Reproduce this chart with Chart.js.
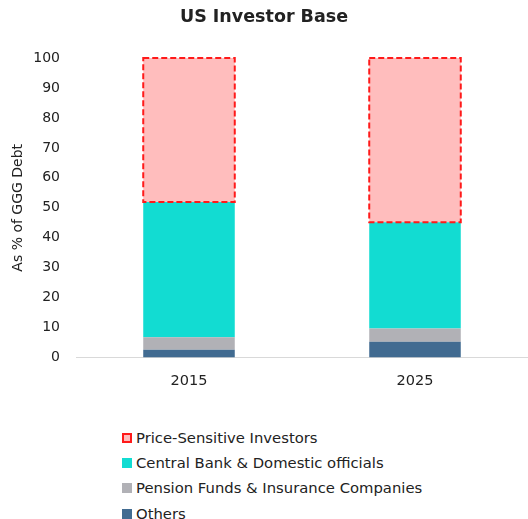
<!DOCTYPE html>
<html>
<head>
<meta charset="utf-8">
<script src="https://cdn.jsdelivr.net/npm/chart.js@4"></script>
<style>
  html, body { margin: 0; padding: 0; background: #fff; }
  #wrap { position: relative; width: 528px; height: 519px; font-family: "DejaVu Sans", Verdana, sans-serif; }
  #box { position: absolute; left: 0; top: 0; width: 528px; height: 419px; }
  #legend { position: absolute; left: 122px; top: 425px; font-size: 14.8px; color: #222; }
  #legend div { height: 25.3px; line-height: 22px; display: flex; align-items: center; }
  #legend span.sw { display: inline-block; width: 10px; height: 10px; margin-right: 4px; box-sizing: border-box; }
</style>
</head>
<body>
<div id="wrap">
  <div id="box"><canvas id="chart"></canvas></div>
  <div id="legend"></div>
</div>
<script>
// Dữ liệu
const years = ["2015", "2025"];
const others = [2.6, 5.3];
const pension = [4.2, 4.4];
const centralBank = [45.1, 35.5];
const priceSensitive = [48.1, 54.8];
const yTicks = [0, 10, 20, 30, 40, 50, 60, 70, 80, 90, 100];

const colors = {
    price: "#ffbdbd",
    priceBorder: "#ff1a1a",
    central: "#12dcd2",
    pension: "#b1b1b6",
    others: "#416b91"
};

// vẽ viền nét đứt cho cột Price-Sensitive (bar không hỗ trợ borderDash)
const dashBorder = {
    id: "dashBorder",
    afterDatasetsDraw(chart) {
        const ctx = chart.ctx;
        chart.data.datasets.forEach((ds, i) => {
            if (!ds.dashed) return;
            const meta = chart.getDatasetMeta(i);
            meta.data.forEach(bar => {
                const p = bar.getProps(["x", "y", "base", "width"], true);
                ctx.save();
                ctx.strokeStyle = colors.priceBorder;
                ctx.lineWidth = 2;
                ctx.setLineDash([6, 3]);
                ctx.strokeRect(p.x - p.width / 2, p.y, p.width, p.base - p.y);
                ctx.restore();
            });
        });
    }
};

const ctx = document.getElementById("chart").getContext("2d");
const chart = new Chart(ctx, {
    type: "bar",
    data: {
        labels: years,
        datasets: [
            { label: "Others", data: others, backgroundColor: colors.others },
            { label: "Pension Funds & Insurance Companies", data: pension, backgroundColor: colors.pension },
            { label: "Central Bank & Domestic officials", data: centralBank, backgroundColor: colors.central },
            { label: "Price-Sensitive Investors", data: priceSensitive, backgroundColor: colors.price, dashed: true }
        ]
    },
    plugins: [dashBorder],
    options: {
        responsive: true,
        maintainAspectRatio: false,
        animation: false,
        layout: { padding: { left: 0, right: 0, top: 0, bottom: 14 } },
        datasets: { bar: { categoryPercentage: 1, barPercentage: 0.405, borderWidth: 0 } },
        plugins: {
            legend: { display: false },
            tooltip: { enabled: false },
            title: {
                display: true,
                text: "US Investor Base",
                color: "#222",
                font: { family: "DejaVu Sans", size: 17.5, weight: "bold" },
                padding: { top: 7, bottom: 30 }
            }
        },
        scales: {
            x: {
                stacked: true,
                grid: { display: false, drawTicks: false },
                border: { display: true, color: "#d9d9d9", width: 1 },
                ticks: { color: "#222", font: { family: "DejaVu Sans", size: 14.5 }, padding: 15 }
            },
            y: {
                stacked: true,
                min: 0,
                max: 100,
                afterBuildTicks: s => { s.ticks = yTicks.map(v => ({ value: v })); },
                afterFit: s => { s.width = 76; },
                grid: { display: false, drawTicks: false },
                border: { display: false },
                ticks: { color: "#222", font: { family: "DejaVu Sans", size: 14 }, padding: 16 },
                title: {
                    display: true,
                    text: "As % of GGG Debt",
                    color: "#222",
                    font: { family: "DejaVu Sans", size: 14 },
                    padding: { top: 10, bottom: 4 }
                }
            }
        }
    }
});

// Legend dạng dọc, thứ tự ngược
const legendEl = document.getElementById("legend");
chart.data.datasets.slice().reverse().forEach(ds => {
    const row = document.createElement("div");
    const sw = document.createElement("span");
    sw.className = "sw";
    sw.style.background = ds.backgroundColor;
    if (ds.dashed) sw.style.border = "2px dashed " + colors.priceBorder;
    row.appendChild(sw);
    row.appendChild(document.createTextNode(ds.label));
    legendEl.appendChild(row);
});
</script>
</body>
</html>
